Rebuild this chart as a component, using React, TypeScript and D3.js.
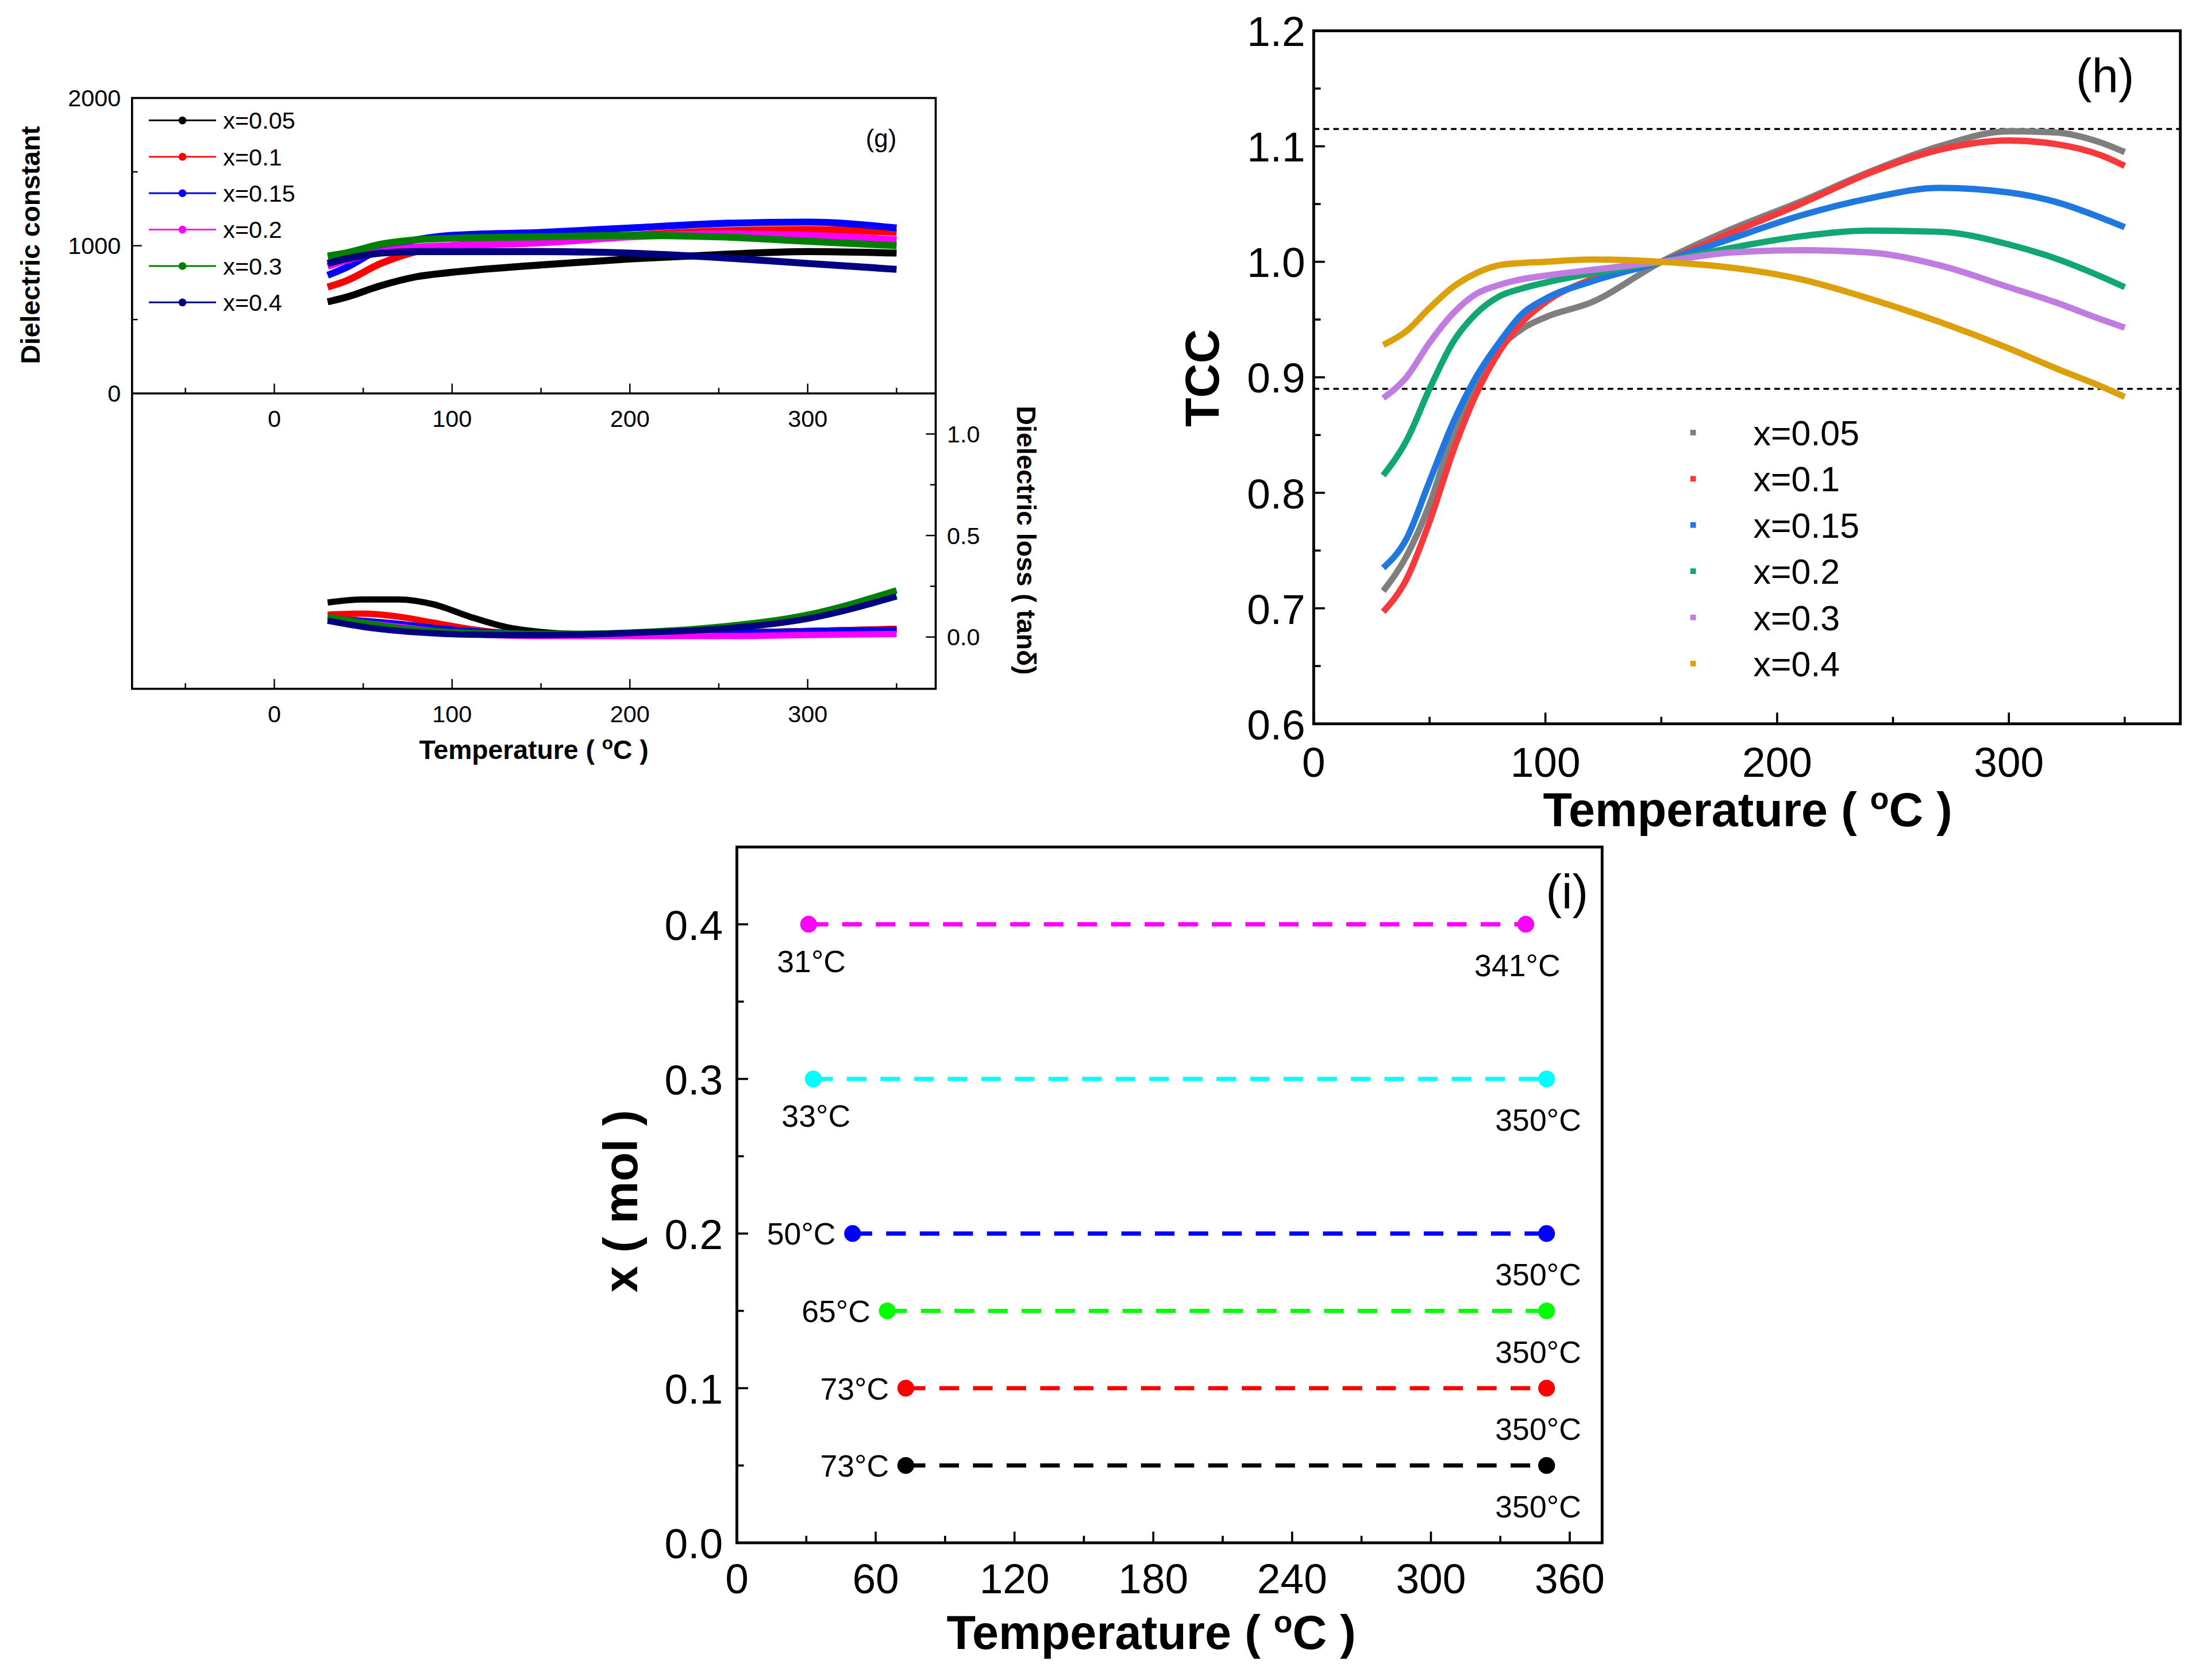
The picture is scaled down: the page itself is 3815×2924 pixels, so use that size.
import * as d3 from 'd3';

// ---- panel (g) data ----
const gSeries = ['x=0.05', 'x=0.1', 'x=0.15', 'x=0.2', 'x=0.3', 'x=0.4'];
const gColors = ['#000000', '#ff0000', '#0000ff', '#ff00ff', '#008000', '#000080'];
const gTemps = [30, 40, 60, 80, 100, 150, 200, 250, 300, 350];
const epsBlack = [620, 650, 730, 790, 820, 870, 910, 940, 960, 950];
const epsRed = [720, 760, 880, 960, 1000, 1030, 1070, 1100, 1110, 1090];
const epsBlue = [800, 850, 980, 1040, 1070, 1090, 1120, 1150, 1160, 1120];
const epsMagenta = [860, 900, 960, 990, 1000, 1020, 1060, 1080, 1070, 1040];
const epsGreen = [930, 950, 1010, 1040, 1050, 1060, 1070, 1060, 1030, 1000];
const epsNavy = [880, 910, 950, 960, 960, 960, 950, 920, 880, 840];
const lossTemps = [30, 50, 70, 90, 110, 130, 150, 170, 200, 250, 300, 350];
const lossBlack = [0.17, 0.185, 0.185, 0.16, 0.1, 0.05, 0.025, 0.015, 0.012, 0.02, 0.03, 0.04];
const lossRed = [0.11, 0.115, 0.1, 0.07, 0.04, 0.02, 0.012, 0.01, 0.01, 0.02, 0.03, 0.04];
const lossBlue = [0.09, 0.08, 0.065, 0.045, 0.03, 0.02, 0.012, 0.01, 0.012, 0.02, 0.028, 0.035];
const lossMagenta = [0.09, 0.07, 0.05, 0.03, 0.015, 0.008, 0.005, 0.005, 0.005, 0.005, 0.01, 0.015];
const lossGreen = [0.1, 0.07, 0.045, 0.03, 0.02, 0.018, 0.016, 0.016, 0.022, 0.05, 0.11, 0.23];
const lossNavy = [0.08, 0.05, 0.03, 0.018, 0.012, 0.01, 0.01, 0.012, 0.02, 0.04, 0.09, 0.2];

// ---- panel (h) data ----
const hSeries = ['x=0.05', 'x=0.1', 'x=0.15', 'x=0.2', 'x=0.3', 'x=0.4'];
const hColors = ['#7f7f7f', '#f8393c', '#1f77e0', '#10a870', '#c07ce0', '#dca00a'];
const hTemps = [30, 40, 50, 60, 70, 80, 90, 100, 120, 150, 180, 210, 240, 270, 300, 320, 340, 350];
const tcc005 = [0.715, 0.745, 0.79, 0.85, 0.895, 0.925, 0.942, 0.952, 0.965, 1.0, 1.028, 1.052, 1.078, 1.1, 1.113, 1.112, 1.103, 1.095];
const tcc01 = [0.697, 0.725, 0.775, 0.835, 0.885, 0.922, 0.948, 0.965, 0.985, 1.0, 1.025, 1.05, 1.077, 1.097, 1.105, 1.102, 1.092, 1.083];
const tcc015 = [0.735, 0.76, 0.81, 0.86, 0.9, 0.93, 0.955, 0.968, 0.983, 1.0, 1.02, 1.04, 1.055, 1.064, 1.06, 1.052, 1.038, 1.03];
const tcc02 = [0.815, 0.845, 0.89, 0.93, 0.955, 0.97, 0.977, 0.982, 0.99, 1.0, 1.012, 1.022, 1.027, 1.026, 1.015, 1.003, 0.987, 0.978];
const tcc03 = [0.882, 0.9, 0.93, 0.955, 0.972, 0.98, 0.985, 0.988, 0.993, 1.0, 1.008, 1.01, 1.008, 0.997, 0.978, 0.965, 0.95, 0.943];
const tcc04 = [0.928, 0.94, 0.96, 0.978, 0.99, 0.997, 0.999, 1.0, 1.002, 1.0, 0.995, 0.985, 0.968, 0.948, 0.925, 0.908, 0.892, 0.883];
const tccLimits = [1.115, 0.89];

// ---- panel (i) data ----
const iX = [0.05, 0.1, 0.15, 0.2, 0.3, 0.4];
const iStart = [73, 73, 65, 50, 33, 31];
const iEnd = [350, 350, 350, 350, 350, 341];
const iColors = ['#000000', '#ff0000', '#00ff00', '#0000ff', '#00ffff', '#ff00ff'];

const FONT = '"Liberation Sans", Arial, sans-serif';

export default function App() {
  const epsData = [epsBlack, epsRed, epsBlue, epsMagenta, epsGreen, epsNavy];
  const lossData = [lossBlack, lossRed, lossBlue, lossMagenta, lossGreen, lossNavy];
  const tccData = [tcc005, tcc01, tcc015, tcc02, tcc03, tcc04];

  // panel g scales
  const gx = d3.scaleLinear().domain([-80, 372]).range([94, 668]);
  const gyTop = d3.scaleLinear().domain([0, 2000]).range([281, 70]);
  const gyBot = d3.scaleLinear().domain([-0.255, 1.2]).range([492, 281]);
  const gLineTop = (vals: number[]) =>
    d3.line<number>().x((_, i) => gx(gTemps[i])).y(d => gyTop(d)).curve(d3.curveMonotoneX)(vals) as string;
  const gLineBot = (vals: number[]) =>
    d3.line<number>().x((_, i) => gx(lossTemps[i])).y(d => gyBot(d)).curve(d3.curveMonotoneX)(vals) as string;

  // panel h scales
  const hx = d3.scaleLinear().domain([0, 374]).range([938, 1557]);
  const hy = d3.scaleLinear().domain([0.6, 1.2]).range([517, 22]);
  const hLine = (vals: number[]) =>
    d3.line<number>().x((_, i) => hx(hTemps[i])).y(d => hy(d)).curve(d3.curveMonotoneX)(vals) as string;

  // panel i scales
  const ix = d3.scaleLinear().domain([0, 374]).range([526, 1144]);
  const iy = d3.scaleLinear().domain([0, 0.45]).range([1102, 605]);

  const gXTicks = [0, 100, 200, 300];
  const gXMinor = [-50, 50, 150, 250, 350];

  return (
    <svg width={3815} height={2924} viewBox="0 0 1565 1200"
      style={{ position: 'absolute', left: 0, top: 0, background: '#fff' }} fontFamily={FONT}>
      {/* ===== panel g ===== */}
      <g>
        {epsData.map((v, i) => (
          <path key={'e' + i} d={gLineTop(v)} fill="none" stroke={gColors[i]} strokeWidth={5} />
        ))}
        {lossData.map((v, i) => (
          <path key={'l' + i} d={gLineBot(v)} fill="none" stroke={gColors[i]} strokeWidth={4.5} />
        ))}
        <rect x={94} y={70} width={574} height={422} fill="none" stroke="#000" strokeWidth={1.5} />
        <line x1={94} x2={668} y1={281} y2={281} stroke="#000" strokeWidth={1.5} />
        {/* top panel x axis ticks (inward) */}
        {gXTicks.map(t => (
          <g key={'gt' + t}>
            <line x1={gx(t)} x2={gx(t)} y1={281} y2={274} stroke="#000" />
            <text x={gx(t)} y={305} fontSize={17} textAnchor="middle">{t}</text>
            <line x1={gx(t)} x2={gx(t)} y1={492} y2={485} stroke="#000" />
            <text x={gx(t)} y={516} fontSize={17} textAnchor="middle">{t}</text>
          </g>
        ))}
        {gXMinor.map(t => (
          <g key={'gm' + t}>
            <line x1={gx(t)} x2={gx(t)} y1={281} y2={277} stroke="#000" />
            <line x1={gx(t)} x2={gx(t)} y1={492} y2={488} stroke="#000" />
          </g>
        ))}
        {[0, 1000, 2000].map(t => (
          <g key={'gy' + t}>
            <line x1={94} x2={101} y1={gyTop(t)} y2={gyTop(t)} stroke="#000" />
            <text x={86} y={gyTop(t) + 6} fontSize={17} textAnchor="end">{t}</text>
          </g>
        ))}
        {[500, 1500].map(t => (
          <line key={'gym' + t} x1={94} x2={98} y1={gyTop(t)} y2={gyTop(t)} stroke="#000" />
        ))}
        {[0, 0.5, 1.0].map(t => (
          <g key={'gl' + t}>
            <line x1={661} x2={668} y1={gyBot(t)} y2={gyBot(t)} stroke="#000" />
            <text x={676} y={gyBot(t) + 6} fontSize={17}>{t.toFixed(1)}</text>
          </g>
        ))}
        {[0.25, 0.75].map(t => (
          <line key={'glm' + t} x1={664} x2={668} y1={gyBot(t)} y2={gyBot(t)} stroke="#000" />
        ))}
        <text transform="translate(28,175) rotate(-90)" fontSize={19} fontWeight="bold" textAnchor="middle">Dielectric constant</text>
        <text transform="translate(726,386) rotate(90)" fontSize={19} fontWeight="bold" textAnchor="middle">Dielectric loss ( tanδ)</text>
        <text x={381} y={542} fontSize={19} fontWeight="bold" textAnchor="middle">Temperature ( <tspan fontSize={13} dy={-7}>o</tspan><tspan dy={7}>C )</tspan></text>
        <text x={640} y={105} fontSize={18} textAnchor="end">(g)</text>
        {gSeries.map((s, i) => {
          const y = 86 + i * 26;
          return (
            <g key={'gleg' + i}>
              <line x1={106} x2={154} y1={y} y2={y} stroke={gColors[i]} strokeWidth={1.2} />
              <circle cx={130} cy={y} r={2.8} fill={gColors[i]} />
              <text x={159} y={y + 6} fontSize={17}>{s}</text>
            </g>
          );
        })}
      </g>

      {/* ===== panel h ===== */}
      <g>
        {tccLimits.map(v => (
          <line key={'lim' + v} x1={938} x2={1557} y1={hy(v)} y2={hy(v)} stroke="#000" strokeWidth={1.5} strokeDasharray="4,3" />
        ))}
        {tccData.map((v, i) => (
          <path key={'h' + i} d={hLine(v)} fill="none" stroke={hColors[i]} strokeWidth={4.5} />
        ))}
        <rect x={938} y={22} width={619} height={495} fill="none" stroke="#000" strokeWidth={2} />
        {[0, 100, 200, 300].map(t => (
          <g key={'hx' + t}>
            <line x1={hx(t)} x2={hx(t)} y1={517} y2={509} stroke="#000" strokeWidth={1.5} />
            <text x={hx(t)} y={555} fontSize={30} textAnchor="middle">{t}</text>
          </g>
        ))}
        {[50, 150, 250, 350].map(t => (
          <line key={'hxm' + t} x1={hx(t)} x2={hx(t)} y1={517} y2={512} stroke="#000" strokeWidth={1.5} />
        ))}
        {d3.range(0.6, 1.201, 0.1).map(t => (
          <g key={'hy' + t.toFixed(1)}>
            <line x1={938} x2={946} y1={hy(t)} y2={hy(t)} stroke="#000" strokeWidth={1.5} />
            <text x={932} y={hy(t) + 11} fontSize={30} textAnchor="end">{t.toFixed(1)}</text>
          </g>
        ))}
        {d3.range(0.65, 1.2, 0.1).map(t => (
          <line key={'hym' + t.toFixed(2)} x1={938} x2={943} y1={hy(t)} y2={hy(t)} stroke="#000" strokeWidth={1.5} />
        ))}
        <text transform="translate(870,270) rotate(-90)" fontSize={34} fontWeight="bold" textAnchor="middle">TCC</text>
        <text x={1248} y={590} fontSize={34} fontWeight="bold" textAnchor="middle">Temperature ( <tspan fontSize={22} dy={-12}>o</tspan><tspan dy={12}>C )</tspan></text>
        <text x={1524} y={66} fontSize={34} textAnchor="end">(h)</text>
        {hSeries.map((s, i) => {
          const y = 309 + i * 33;
          return (
            <g key={'hleg' + i}>
              <rect x={1207} y={y - 2} width={4} height={4} fill={hColors[i]} />
              <text x={1252} y={y + 9} fontSize={25}>{s}</text>
            </g>
          );
        })}
      </g>

      {/* ===== panel i ===== */}
      <g>
        {iX.map((x, i) => (
          <g key={'ir' + i}>
            <line x1={ix(iStart[i])} x2={ix(iEnd[i])} y1={iy(x)} y2={iy(x)} stroke={iColors[i]} strokeWidth={3} strokeDasharray="14,10" />
            <circle cx={ix(iStart[i])} cy={iy(x)} r={6} fill={iColors[i]} />
            <circle cx={ix(iEnd[i])} cy={iy(x)} r={6} fill={iColors[i]} />
            {x >= 0.3 ? (
              <text x={ix(iStart[i]) + 2} y={iy(x) + 34} fontSize={22} textAnchor="middle">{iStart[i]}°C</text>
            ) : (
              <text x={ix(iStart[i]) - 12} y={iy(x) + 8} fontSize={22} textAnchor="end">{iStart[i]}°C</text>
            )}
            <text x={ix(iEnd[i]) - 6} y={iy(x) + 37} fontSize={22} textAnchor="middle">{iEnd[i]}°C</text>
          </g>
        ))}
        <rect x={526} y={605} width={618} height={497} fill="none" stroke="#000" strokeWidth={2} />
        {d3.range(0, 361, 60).map(t => (
          <g key={'ix' + t}>
            <line x1={ix(t)} x2={ix(t)} y1={1102} y2={1094} stroke="#000" strokeWidth={1.5} />
            <text x={ix(t)} y={1138} fontSize={30} textAnchor="middle">{t}</text>
          </g>
        ))}
        {d3.range(30, 361, 60).map(t => (
          <line key={'ixm' + t} x1={ix(t)} x2={ix(t)} y1={1102} y2={1097} stroke="#000" strokeWidth={1.5} />
        ))}
        {d3.range(0, 0.401, 0.1).map(t => (
          <g key={'iy' + t.toFixed(1)}>
            <line x1={526} x2={534} y1={iy(t)} y2={iy(t)} stroke="#000" strokeWidth={1.5} />
            <text x={516} y={iy(t) + 11} fontSize={30} textAnchor="end">{t.toFixed(1)}</text>
          </g>
        ))}
        {d3.range(0.05, 0.45, 0.1).map(t => (
          <line key={'iym' + t.toFixed(2)} x1={526} x2={531} y1={iy(t)} y2={iy(t)} stroke="#000" strokeWidth={1.5} />
        ))}
        <text transform="translate(455,858) rotate(-90)" fontSize={34} fontWeight="bold" textAnchor="middle">x ( mol )</text>
        <text x={822} y={1178} fontSize={34} fontWeight="bold" textAnchor="middle">Temperature ( <tspan fontSize={22} dy={-12}>o</tspan><tspan dy={12}>C )</tspan></text>
        <text x={1134} y={649} fontSize={34} textAnchor="end">(i)</text>
      </g>
    </svg>
  );
}
